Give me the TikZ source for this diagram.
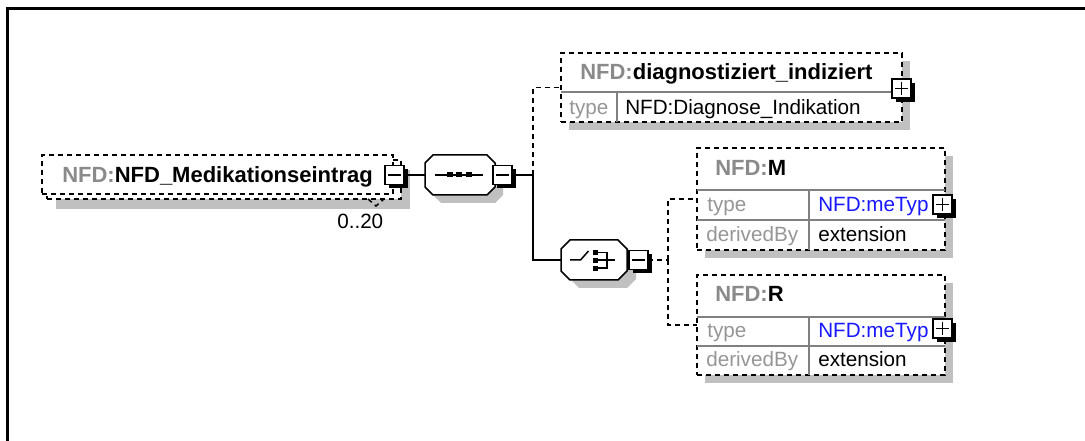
\documentclass[tikz,border=0pt]{standalone}
\usepackage{fontspec}
\setmainfont{Liberation Sans}
\usetikzlibrary{calc}
\definecolor{pfx}{RGB}{138,138,138}
\definecolor{lbl}{RGB}{150,150,150}
\definecolor{shd}{RGB}{192,192,192}
\definecolor{typblue}{RGB}{25,25,255}
\definecolor{divg}{RGB}{128,128,128}
\newcommand{\pmbox}[4]{%
  \fill (#2+4,#3+4) rectangle (#2+23,#3+23);
  \node[pm, anchor=north west] (#1) at (#2,#3) {};
  \draw[line width=1.125pt] ([xshift=2.6pt]#1.west) -- ([xshift=-2.6pt]#1.east);
  \ifx#4p\draw[line width=1.125pt] ([yshift=-2.6pt]#1.north) -- ([yshift=2.6pt]#1.south);\fi
}
\begin{document}
\begin{tikzpicture}[x=0.75pt,y=-0.75pt,
  dsh/.style={line width=1.125pt, dash pattern=on 3.75pt off 3pt},
  elbox/.style={draw, dsh, fill=white, inner sep=0pt, outer sep=0pt},
  divider/.style={draw=divg, line width=1.125pt},
  pm/.style={draw, line width=1.125pt, fill=white, minimum size=14.25pt, inner sep=0pt, outer sep=0pt},
  bt/.style={font=\fontsize{16.5}{19}\selectfont\bfseries, anchor=base west, inner sep=0pt},
  rt/.style={font=\fontsize{15.5}{18}\selectfont, anchor=base west, inner sep=0pt},
  conn/.style={line width=1.125pt},
  octo/.style={draw, line width=1.125pt, fill=white}
]
\useasboundingbox (0,0) rectangle (1085,441);
% frame
\draw[line width=2.25pt] (7.6,441) -- (7.6,8.3) -- (1085,8.3);

% ---------- element A (multiple) ----------
\fill[shd] (56,170) rectangle (410,209);
\node[elbox, anchor=north west, minimum width=265.5pt, minimum height=29.25pt] (Aback) at (47,160) {};
\node[elbox, anchor=north west, minimum width=263.25pt, minimum height=29.25pt] (A) at (42,155) {};
\draw[dsh] (368,199) -- (376,206) -- (384,199);
\node[bt] (tA) at (62,183) {\textcolor{pfx}{NFD:}NFD\_Medikationseintrag};
\node[rt] (occ) at (337,229) {0..20};
\pmbox{mA}{385}{165.5}{m}

% ---------- sequence ----------
\fill[shd] (441,163) -- (495,163) -- (503,171) -- (503,195) -- (495,203) -- (441,203) -- (433,195) -- (433,171) -- cycle;
\draw[octo] (433,155) -- (487,155) -- (495,163) -- (495,187) -- (487,195) -- (433,195) -- (425,187) -- (425,163) -- cycle;
\coordinate (seqW) at (425,175);
\draw[conn] (435,175) -- (483,175);
\fill (446.7,172.5) rectangle (452.7,177.5);
\fill (456,172.5) rectangle (462,177.5);
\fill (466,172.5) rectangle (472,177.5);
\pmbox{mS}{493}{165.5}{m}

% ---------- choice ----------
\fill[shd] (579,248) -- (627,248) -- (636,257) -- (636,279) -- (627,288) -- (579,288) -- (570,279) -- (570,257) -- cycle;
\draw[octo] (570,240) -- (618,240) -- (627,249) -- (627,271) -- (618,280) -- (570,280) -- (561,271) -- (561,249) -- cycle;
\coordinate (chW) at (561,260);
\draw[conn] (570,260) -- (580.5,260) -- (588.5,251);
\fill (592.7,250) rectangle (597.7,255);
\fill (592.7,257.7) rectangle (597.7,262.7);
\fill (592.7,265.7) rectangle (597.7,270.7);
\draw[conn] (597.7,252.5) -- (607,252.5) -- (607,268.2) -- (597.7,268.2);
\draw[conn] (597.7,260.2) -- (615,260.2);
\pmbox{mC}{629}{250.5}{m}

% ---------- element D ----------
\fill[shd] (569,61) rectangle (910,130);
\node[elbox, anchor=north west, minimum width=255.75pt, minimum height=51.75pt] (D) at (561,53) {};
\draw[divider] (561,92) -- (902,92);
\draw[divider] (617,92) -- (617,122);
\node[bt] (tD) at (580,80) {\textcolor{pfx}{NFD:}diagnostiziert\_indiziert};
\node[rt, text=lbl] (tDt) at (569,115) {type};
\node[rt] (tDv) at (625,115) {NFD:Diagnose\_Indikation};
\pmbox{pD}{892}{79}{p}

% ---------- element M ----------
\fill[shd] (705,156) rectangle (953,258);
\node[elbox, anchor=north west, minimum width=186pt, minimum height=76.5pt] (M) at (697,148) {};
\draw[divider] (697,190) -- (945,190);
\draw[divider] (697,220) -- (945,220);
\draw[divider] (809,190) -- (809,250);
\node[bt] (tM) at (715,176) {\textcolor{pfx}{NFD:}M};
\node[rt, text=lbl] (tMt) at (707,211.5) {type};
\node[rt, text=typblue] (tMv) at (818,211.5) {NFD:meTyp};
\node[rt, text=lbl] (tMd) at (706,242) {derivedBy};
\node[rt] (tMe) at (818,242) {extension};
\pmbox{pM}{933}{195}{p}

% ---------- element R ----------
\fill[shd] (705,283) rectangle (953,383);
\node[elbox, anchor=north west, minimum width=186pt, minimum height=75pt] (R) at (697,275) {};
\draw[divider] (697,317) -- (945,317);
\draw[divider] (697,346) -- (945,346);
\draw[divider] (809,317) -- (809,375);
\node[bt] (tR) at (715,302) {\textcolor{pfx}{NFD:}R};
\node[rt, text=lbl] (tRt) at (707,338) {type};
\node[rt, text=typblue] (tRv) at (818,338) {NFD:meTyp};
\node[rt, text=lbl] (tRd) at (706,367) {derivedBy};
\node[rt] (tRe) at (818,367) {extension};
\pmbox{pR}{933}{319}{p}

% ---------- connectors ----------
\coordinate (J1) at (533,175);
\coordinate (J2) at (668,260);
\draw[conn] (mA.east) -- (seqW);
\draw[conn] (mS.east) -- (J1);
\draw[conn] (J1) |- (chW);
\draw[conn, dsh] (J1) |- (D.west);
\draw[conn, dsh] (mC.east) -- (J2);
\draw[conn, dsh] (J2) |- (M.west);
\draw[conn, dsh] (J2) |- (R.west);
\end{tikzpicture}
\end{document}
